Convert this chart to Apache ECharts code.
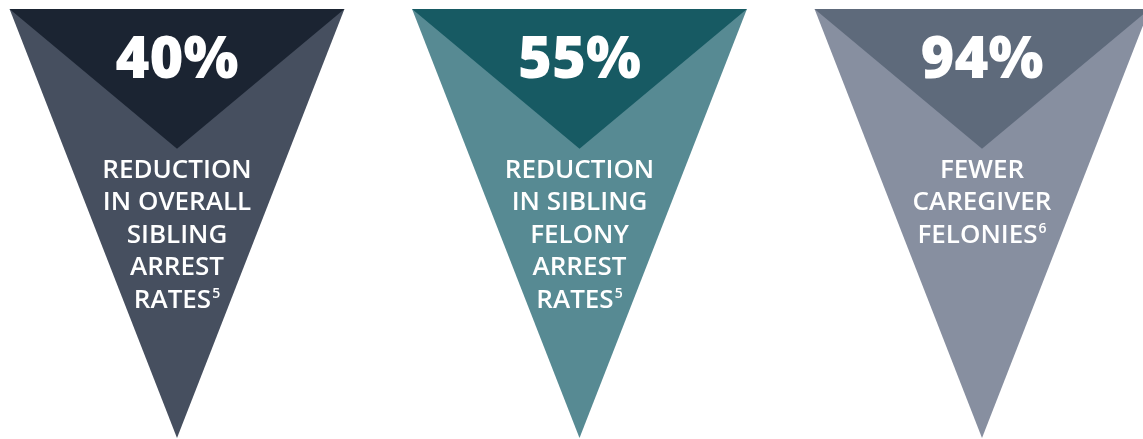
<!DOCTYPE html>
<html>
<head>
<meta charset="utf-8">
<script src="https://cdn.jsdelivr.net/npm/echarts@6/dist/echarts.min.js"></script>
<style>
html,body{margin:0;padding:0;background:#fff;}
#chart{width:1143px;height:439px;}
</style>
</head>
<body>
<div id="chart"></div>
<script>
// ---- data ----
const categories = ['Sibling arrests', 'Sibling felony arrests', 'Caregiver felonies'];
const values = [40, 55, 94];
const descriptions = [
  ['REDUCTION', 'IN OVERALL', 'SIBLING', 'ARREST', 'RATES'],
  ['REDUCTION', 'IN SIBLING', 'FELONY', 'ARREST', 'RATES'],
  ['FEWER', 'CAREGIVER', 'FELONIES']
];
const footnotes = ['5', '5', '6'];
const outerColors = ['#464f5f', '#578a93', '#878fa0'];
const innerColors = ['#1b2432', '#175a63', '#5e6a7b'];

const chart = echarts.init(document.getElementById('chart'), null, {renderer: 'canvas'});

function renderItem(params, api) {
  const idx = api.value(0);
  const top = api.coord([idx, 1]);
  const bottom = api.coord([idx, 0]);
  const step = api.size([1, 0])[0];
  const hw = step * 0.416;
  const cx = top[0];
  const innerApexY = top[1] + (bottom[1] - top[1]) * 0.326;
  const lines = descriptions[idx];
  let txt = lines.map((l, i) => i === lines.length - 1 ? '{t|' + l + '}{s|' + footnotes[idx] + '}' : '{t|' + l + '}').join('\n');
  return {
    type: 'group',
    children: [
      {type: 'polygon', shape: {points: [[cx - hw, top[1]], [cx + hw, top[1]], [cx, bottom[1]]]}, style: {fill: outerColors[idx]}},
      {type: 'polygon', shape: {points: [[cx - hw, top[1]], [cx + hw, top[1]], [cx, innerApexY]]}, style: {fill: innerColors[idx]}},
      {type: 'text', style: {
        text: api.value(1) + '%', x: cx, y: 61, align: 'center', verticalAlign: 'middle',
        fontFamily: '"Open Sans"', fontWeight: 800, fontSize: 58, fill: '#ffffff'
      }},
      {type: 'text', style: {
        text: txt, x: cx, y: 154, align: 'center', verticalAlign: 'top',
        rich: {
          t: {fontFamily: '"Open Sans"', fontWeight: 600, fontSize: 26, lineHeight: 32.5, fill: '#ffffff', color: '#ffffff'},
          s: {fontFamily: '"Open Sans"', fontWeight: 600, fontSize: 14, lineHeight: 32.5, fill: '#ffffff', color: '#ffffff', padding: [0, 0, 13, 1]}
        }
      }}
    ]
  };
}

chart.setOption({
  animation: false,
  grid: {left: 177, right: 161, top: 9, bottom: 1},
  xAxis: {type: 'value', min: 0, max: 2, show: false},
  yAxis: {type: 'value', min: 0, max: 1, show: false},
  series: [{
    type: 'custom',
    clip: false,
    renderItem: renderItem,
    data: categories.map((c, i) => [i, values[i]])
  }]
});
</script>
</body>
</html>
